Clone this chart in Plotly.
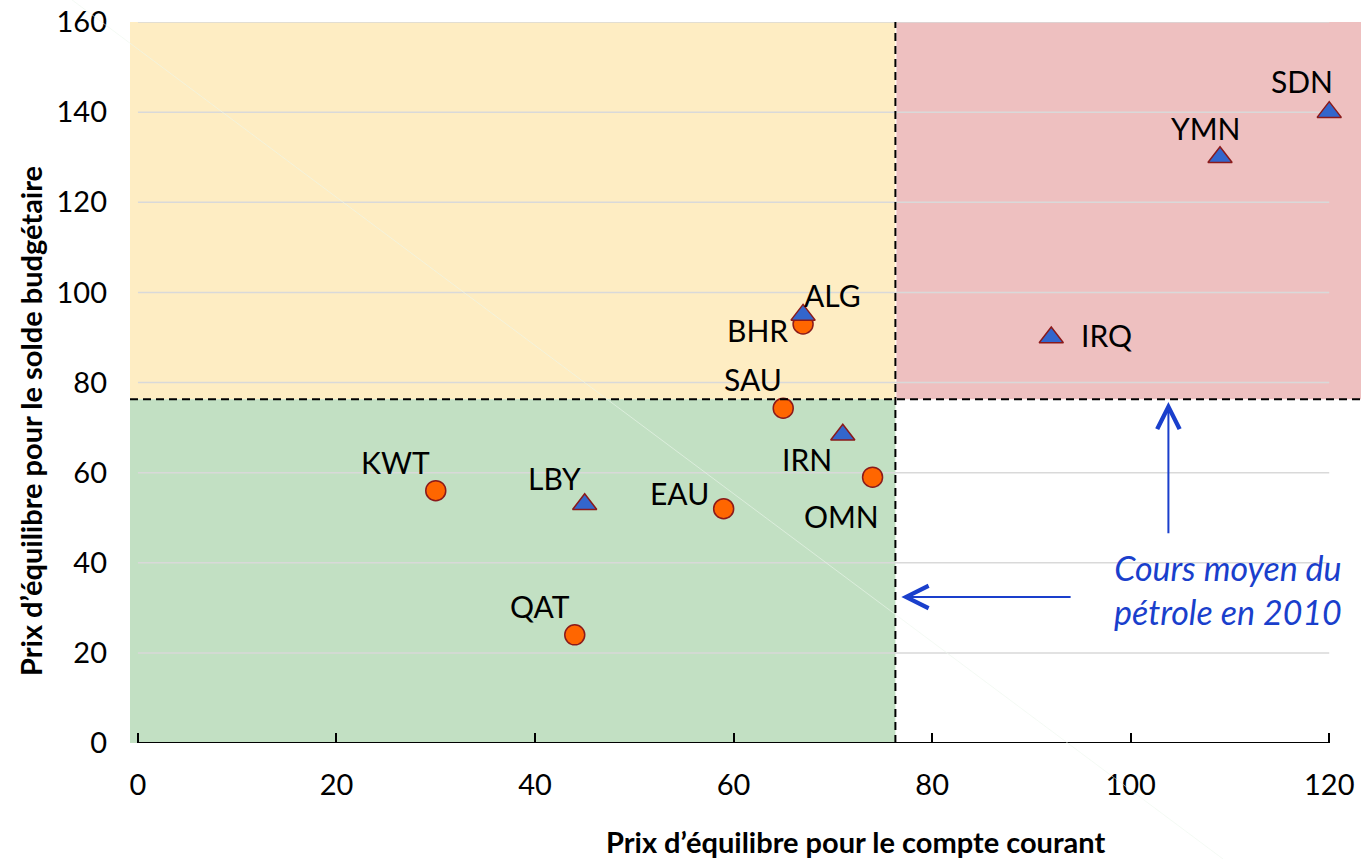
import plotly.graph_objects as go

# ---------------- data ----------------
circle_codes = ["BHR", "SAU", "OMN", "KWT", "EAU", "QAT"]
circle_x = [67, 65, 74, 30, 59, 44]
circle_y = [93, 74.3, 59, 56, 52, 24]

tri_codes = ["SDN", "YMN", "IRQ", "ALG", "IRN", "LBY"]
tri_x = [120, 109, 92, 67, 71, 45]
tri_y = [140, 130, 90, 95, 68.4, 53]

oil_price_2010 = 76.3
x_ticks = [0, 20, 40, 60, 80, 100, 120]
y_ticks = [0, 20, 40, 60, 80, 100, 120, 140, 160]

# label offsets in pixels (dx, dy) – styling only
label_offsets = {
    "SDN": (-27, 31), "YMN": (-15, 29), "IRQ": (55, 2), "ALG": (29, 20),
    "BHR": (-46, -6), "SAU": (-30, 29), "IRN": (-36, -24), "OMN": (-31, -39),
    "KWT": (-40, 29), "LBY": (-30, 26), "EAU": (-44, 16), "QAT": (-35, 29),
}

FONT = "Lato"
BLUE_TXT = "#1A3FCC"
X_MIN, X_MAX = -0.8, 123.2
Y_MIN, Y_MAX = 0, 160

fig = go.Figure()

fig.add_trace(go.Scatter(
    x=circle_x, y=circle_y, mode="markers", name="circles",
    marker=dict(symbol="circle", size=20, color="#FF6600",
                line=dict(color="#8B1A1A", width=1.5)),
    hoverinfo="text", text=circle_codes, showlegend=False))

fig.add_trace(go.Scatter(
    x=tri_x, y=tri_y, mode="markers", name="triangles",
    marker=dict(symbol="triangle-up", size=21, color="#3366CC",
                line=dict(color="#8B1A1A", width=1.5)),
    hoverinfo="text", text=tri_codes, showlegend=False))

shapes = []
# coloured quadrants
shapes.append(dict(type="rect", xref="x", yref="y", x0=X_MIN, x1=oil_price_2010,
                   y0=oil_price_2010, y1=Y_MAX, fillcolor="#FEEDC3",
                   line=dict(width=0), layer="below"))
shapes.append(dict(type="rect", xref="x", yref="y", x0=oil_price_2010 + 0.1, x1=X_MAX,
                   y0=oil_price_2010, y1=Y_MAX, fillcolor="#EEC0C0",
                   line=dict(width=0), layer="below"))
shapes.append(dict(type="rect", xref="x", yref="y", x0=X_MIN, x1=oil_price_2010,
                   y0=Y_MIN, y1=oil_price_2010, fillcolor="#C2E0C3",
                   line=dict(width=0), layer="below"))
# gridlines (span only 0..120)
for yv in y_ticks[1:]:
    shapes.append(dict(type="line", xref="x", yref="y", x0=x_ticks[0], x1=x_ticks[-1],
                       y0=yv, y1=yv, line=dict(color="#D9D9D9", width=1.5),
                       layer="below"))
# x axis line
shapes.append(dict(type="line", xref="x", yref="y", x0=x_ticks[0], x1=x_ticks[-1],
                   y0=0, y1=0, line=dict(color="black", width=2), layer="above"))
# dashed reference lines
shapes.append(dict(type="line", xref="x", yref="y", x0=X_MIN, x1=X_MAX,
                   y0=oil_price_2010, y1=oil_price_2010,
                   line=dict(color="black", width=2, dash="8px,5px"), layer="above"))
shapes.append(dict(type="line", xref="x", yref="y", x0=oil_price_2010, x1=oil_price_2010,
                   y0=Y_MIN, y1=Y_MAX,
                   line=dict(color="black", width=2, dash="8px,5px"), layer="above"))
# faint diagonal artefact line
shapes.append(dict(type="line", xref="paper", yref="paper", x0=-0.047, y0=1.0305,
                   x1=0.888, y1=-0.161,
                   line=dict(color="rgba(236,246,236,0.6)", width=1), layer="above"))

annotations = []
for codes, xs, ys in [(circle_codes, circle_x, circle_y), (tri_codes, tri_x, tri_y)]:
    for c, xv, yv in zip(codes, xs, ys):
        dx, dy = label_offsets[c]
        annotations.append(dict(x=xv, y=yv, xref="x", yref="y", text=c,
                                showarrow=False, xshift=dx, yshift=dy,
                                font=dict(family=FONT, size=30, color="black")))

# arrows
annotations.append(dict(x=103.8, y=75.7, ax=103.8, ay=46.2, xref="x", yref="y",
                        axref="x", ayref="y", text="", showarrow=True,
                        arrowhead=5, arrowsize=2.2, arrowwidth=2, arrowcolor=BLUE_TXT))
annotations.append(dict(x=76.9, y=32.4, ax=94.1, ay=32.4, xref="x", yref="y",
                        axref="x", ayref="y", text="", showarrow=True,
                        arrowhead=5, arrowsize=2.2, arrowwidth=2, arrowcolor=BLUE_TXT))
annotations.append(dict(x=109.8, y=34, xref="x", yref="y", showarrow=False,
                        text="<i>Cours moyen du<br>pétrole en 2010</i>", align="center",
                        font=dict(family=FONT, size=34, color=BLUE_TXT)))

# axis titles
annotations.append(dict(x=0.589, y=-0.137, xref="paper", yref="paper", showarrow=False,
                        text="<b>Prix d’équilibre pour le compte courant</b>",
                        xanchor="center", yanchor="middle",
                        font=dict(family=FONT, size=29, color="black")))
annotations.append(dict(x=-0.081, y=0.447, xref="paper", yref="paper", showarrow=False,
                        text="<b>Prix d’équilibre pour le solde budgétaire</b>",
                        textangle=-90, xanchor="center", yanchor="middle",
                        font=dict(family=FONT, size=29, color="black")))

fig.update_layout(
    width=1368, height=859,
    margin=dict(l=130, r=7, t=22, b=116, autoexpand=False),
    paper_bgcolor="white", plot_bgcolor="white",
    shapes=shapes, annotations=annotations, showlegend=False,
    xaxis=dict(range=[X_MIN, X_MAX], tickvals=x_ticks, showgrid=False, zeroline=False,
               showline=False, ticks="inside", ticklen=10, tickwidth=2,
               tickcolor="black", ticklabelstandoff=22, ticklabeloverflow="allow",
               automargin=False,
               tickfont=dict(family=FONT, size=29, color="black")),
    yaxis=dict(range=[Y_MIN, Y_MAX], tickvals=y_ticks, showgrid=False, zeroline=False,
               showline=False, ticks="", ticklabelstandoff=22, ticklabeloverflow="allow",
               automargin=False,
               tickfont=dict(family=FONT, size=29, color="black")),
)

fig.write_html("out.html", config={"displayModeBar": False},
               post_script="document.body.style.margin='0';document.body.style.padding='0';")
